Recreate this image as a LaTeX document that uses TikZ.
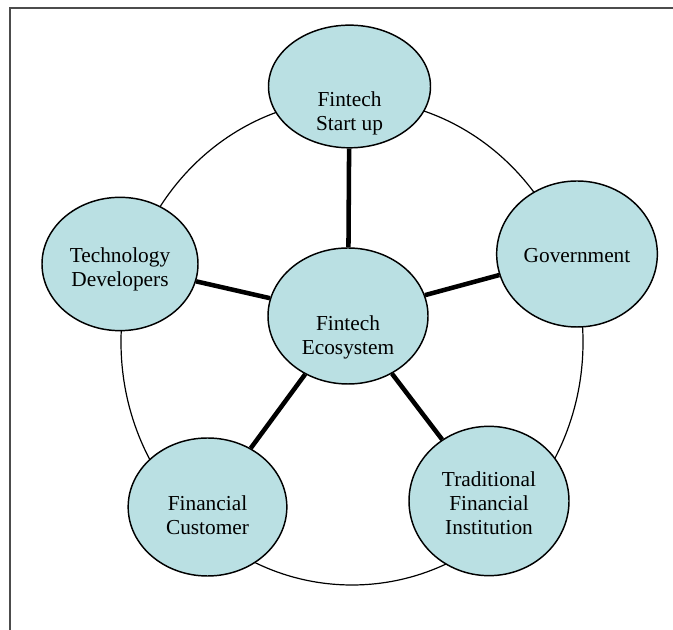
\documentclass[tikz,border=0pt]{standalone}
\usepackage{fontspec}
\setmainfont{Liberation Serif}
\usepackage{tikz}
\usetikzlibrary{shapes.geometric}

\definecolor{partnerfill}{RGB}{186,224,227}

\begin{document}
\begin{tikzpicture}[x=0.75pt,y=0.75pt,
		partner/.style={ellipse,draw,line width=1.1pt,fill=partnerfill,inner sep=0pt},
		caption/.style={align=center,inner sep=0pt,font=\fontsize{16}{18}\selectfont},
		spoke/.style={line width=3.4pt}]
		\useasboundingbox (0,0) rectangle (673,630);
%		\draw[help lines,step=50] (0,0) grid (673,630);
		\draw[line width=1.2pt,black!70] (10,0) -- (10,622) -- (673,622);

		\path (352,288) coordinate (ring);
		\path (348,314) coordinate (hub_c);
		\path (349.5,543.5) coordinate (start_c);
		\path (577,376) coordinate (gov_c);
		\path (120,366) coordinate (tech_c);
		\path (207.5,123) coordinate (cust_c);
		\path (489,129) coordinate (inst_c);

		% outer ring behind the partners
		\draw[line width=0.9pt] (ring) ellipse [x radius=231, y radius=243];

		\path (hub_c) node(hub) [partner,minimum width=120pt,minimum height=102pt] {};
		\path (start_c) node(start) [partner,minimum width=121.5pt,minimum height=92pt] {};
		\path (gov_c) node(gov) [partner,minimum width=120.5pt,minimum height=109.5pt] {};
		\path (tech_c) node(tech) [partner,minimum width=117pt,minimum height=100pt] {};
		\path (cust_c) node(cust) [partner,minimum width=119pt,minimum height=103.5pt] {};
		\path (inst_c) node(inst) [partner,minimum width=120pt,minimum height=112pt] {};

		% the texts sit a little low in their circles
		\path (hub.center) +(0,-21) node(hub_t) [caption] {Fintech\\Ecosystem};
		\path (start.center) +(0,-27) node(start_t) [caption] {Fintech\\Start up};
		\path (gov.center) +(0,-2) node(gov_t) [caption] {Government};
		\path (tech.center) +(0,-5) node(tech_t) [caption] {Technology\\Developers};
		\path (cust.center) +(0,-8) node(cust_t) [caption] {Financial\\Customer};
		\path (inst.center) +(0,-2) node(inst_t) [caption] {Traditional\\Financial\\Institution};

		\draw[spoke] (hub) -- (start);
		\draw[spoke] (hub) -- (gov);
		\draw[spoke] (hub) -- (tech);
		\draw[spoke] (hub) -- (cust);
		\draw[spoke] (hub) -- (inst);
	\end{tikzpicture}
\end{document}
